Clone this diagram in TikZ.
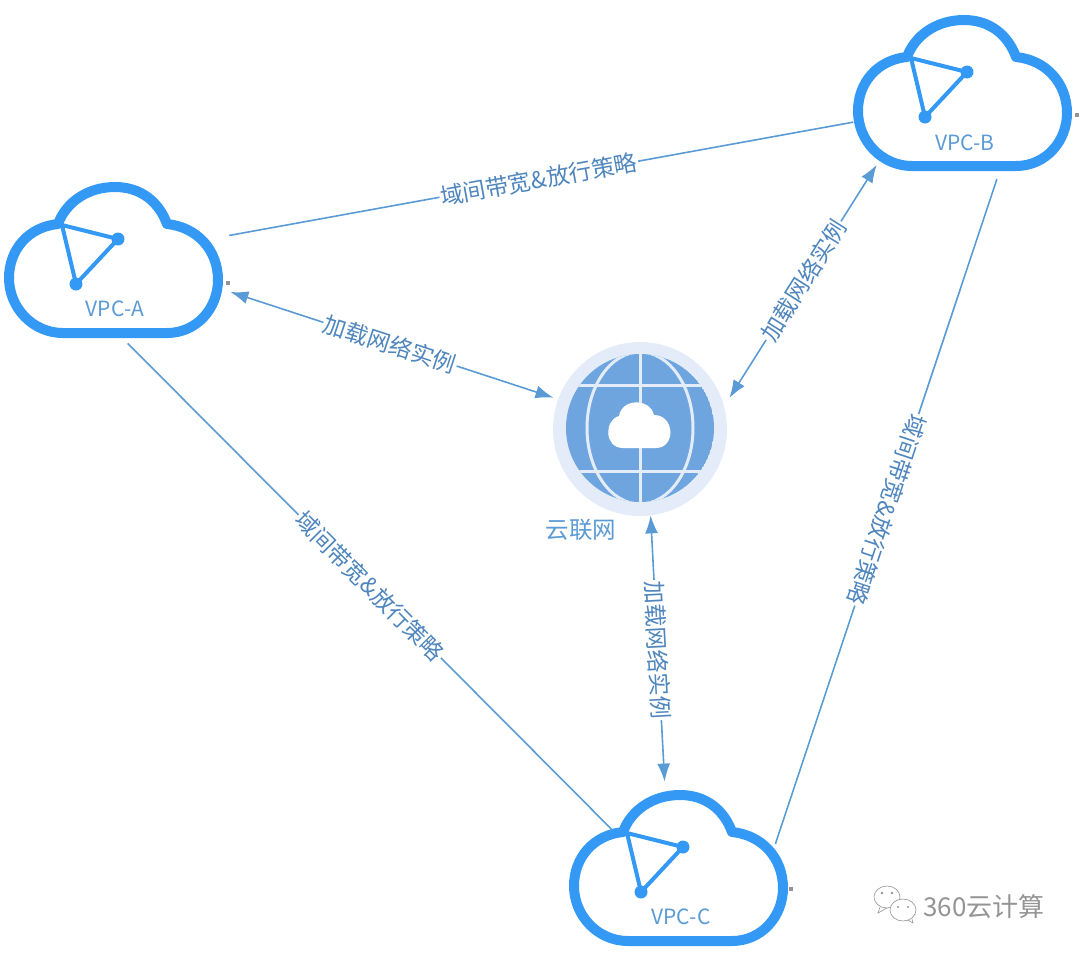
\documentclass[tikz,border=0pt]{standalone}
\usepackage{fontspec}
\setmainfont{Noto Sans CJK SC}
\usetikzlibrary{shapes.geometric, arrows.meta}
\definecolor{cloudblue}{HTML}{3399F5}
\definecolor{linkblue}{HTML}{5B9BD5}
\definecolor{textblue}{HTML}{4F86BD}
\definecolor{globeblue}{HTML}{6FA5DF}
\definecolor{globepale}{HTML}{E3ECF8}
\definecolor{markgray}{HTML}{949494}

\begin{document}
\begin{tikzpicture}[
    x=1pt, y=-1pt,
    port/.style={ellipse, minimum width=232pt, minimum height=168pt, inner sep=0pt, outer sep=0pt},
    globe/.style={circle, minimum size=174pt, inner sep=0pt, outer sep=0pt, fill=globepale},
    vpclabel/.style={font=\fontsize{21}{21}\selectfont, text=linkblue},
    hublabel/.style={font=\fontsize{23.5}{24}\selectfont, text=linkblue},
    marklabel/.style={font=\fontsize{26}{26}\selectfont, text=markgray},
    linklabel/.style={font=\fontsize{23}{23}\selectfont, text=textblue, fill=white, inner sep=1pt, sloped, allow upside down},
    link/.style={draw=linkblue, line width=1.6pt},
    arrow/.style={link, {Latex[length=18pt, width=13pt]}-{Latex[length=18pt, width=13pt]}},
    vpccloud/.pic={
        \draw[cloudblue, line width=10pt, line join=round] (-50,73) -- (54,73)
            .. controls (84,73) and (105,48) .. (105,20)
            .. controls (105,-10) and (84,-33) .. (54,-36)
            .. controls (46,-58) and (28,-73) .. (2,-73)
            .. controls (-25,-73) and (-47,-58) .. (-55,-36)
            .. controls (-85,-33) and (-104,-10) .. (-104,18)
            .. controls (-104,48) and (-80,73) .. (-50,73) -- cycle;
        \draw[cloudblue, line width=4pt, line join=round] (-51,-35) -- (5,-21) -- (-37,24) -- cycle;
        \fill[cloudblue] (5,-21) circle (6.5);
        \fill[cloudblue] (-37,24) circle (6.5);
    }
]
    \useasboundingbox (0,0) rectangle (1080,954);

    % clouds
    \node[port] (vpca) at (113,260) {};
    \node[port] (vpcb) at (962,93) {};
    \node[port] (vpcc) at (678,868) {};
    \pic at (vpca) {vpccloud};
    \pic at (vpcb) {vpccloud};
    \pic at (vpcc) {vpccloud};
    \node[vpclabel] (vpcatext) at (115,309) {VPC-A};
    \node[vpclabel] (vpcbtext) at (965,143) {VPC-B};
    \node[vpclabel] (vpcctext) at (681,917) {VPC-C};

    % hub
    \node[globe] (hub) at (640,429) {};
    \begin{scope}
        \clip (640,428) circle (74);
        \fill[globeblue] (640,428) circle (74);
        \draw[globepale, line width=3pt] (640,340) -- (640,520);
        \draw[globepale, line width=3pt] (560,385) -- (720,385);
        \draw[globepale, line width=3pt] (560,471) -- (720,471);
        \draw[globepale, line width=3pt] (640,428) ellipse (53 and 76);
    \end{scope}
    \fill[white] (623,448) .. controls (604,448) and (604,420) .. (619,416)
        .. controls (622,398) and (650,398) .. (654,415)
        .. controls (675,415) and (676,448) .. (656,448) -- cycle;
    \node[hublabel] (hubtext) at (581,530) {云联网};

    % links
    \draw[link, shorten <=5pt] (vpca.12) -- node[linklabel, pos=.5] {域间带宽\&放行策略} (vpcb.195.7);
    \draw[link, shorten <=7pt, shorten >=-16pt] (vpcb.-65.6) -- node[linklabel, pos=.514] {域间带宽\&放行策略} (vpcc.21.4);
    \draw[link, shorten >=-27pt] (vpca.-80) -- node[linklabel, pos=.52] {域间带宽\&放行策略} (vpcc.146.2);
    \draw[arrow, shorten <=9pt, shorten >=5pt] (vpca.-15) -- node[linklabel, pos=.5] {加载网络实例} (hub.160.9);
    \draw[arrow, shorten <=10pt, shorten >=12pt] (hub.15.8) -- node[linklabel, pos=.5] {加载网络实例} (vpcb.218);
    \draw[arrow, shorten <=3pt] (vpcc.99.8) -- node[linklabel, pos=.5, rotate=180] {加载网络实例} (hub.-83.3);

    % small ticks beside the clouds
    \fill[markgray] (226,281) rectangle (230,285);
    \fill[markgray] (1075,113) rectangle (1079,117);
    \fill[markgray] (789,887) rectangle (793,891);

    % watermark
    \draw[markgray, line width=.6pt] (887,897) ellipse (13 and 11);
    \draw[markgray, line width=.6pt, fill=white] (903,910) ellipse (13 and 11);
    \draw[markgray, line width=.6pt] (880,907) -- (878,913) -- (887,908);
    \draw[markgray, line width=.6pt] (908,920) -- (913,923) -- (912,919);
    \fill[markgray] (882,893) circle (1.3);
    \fill[markgray] (892,893) circle (1.3);
    \fill[markgray] (898,907) circle (1.2);
    \fill[markgray] (908,907) circle (1.2);
    \node[marklabel] (marktext) at (984,907) {360云计算};
\end{tikzpicture}
\end{document}
